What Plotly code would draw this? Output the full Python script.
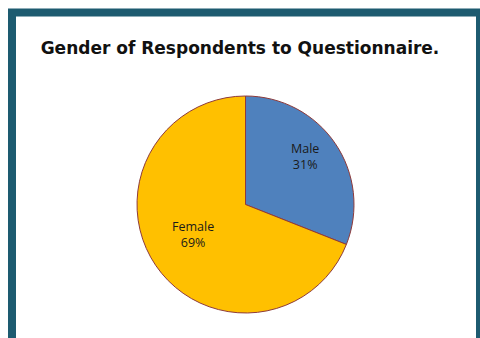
import plotly.graph_objects as go

# Survey breakdown by gender
genders = ["Male", "Female"]
shares = [31, 69]
slice_colors = ["#4F81BD", "#FFC000"]

W, H = 480, 338

# Pie placement (paper fractions) and label anchor points in pixels
pie_x = [137 / W, 354 / W]
pie_y = [25 / H, 242 / H]
label_px = [(305, 156), (193, 234)]

fig = go.Figure(
    go.Pie(
        labels=genders,
        values=shares,
        sort=False,
        direction="clockwise",
        rotation=0,
        marker=dict(colors=slice_colors, line=dict(color="#8E3B3B", width=1)),
        textinfo="none",
        hoverinfo="label+percent",
        showlegend=False,
        domain=dict(x=pie_x, y=pie_y),
    )
)

total = sum(shares)
for name, val, (px, py) in zip(genders, shares, label_px):
    fig.add_annotation(
        x=px / W,
        y=1 - py / H,
        xref="paper",
        yref="paper",
        text=f"{name}<br>{round(100 * val / total)}%",
        showarrow=False,
        xanchor="center",
        yanchor="middle",
        align="center",
        font=dict(family="Open Sans, Liberation Sans, sans-serif", size=12.5, color="#1a1a1a"),
    )

fig.update_layout(
    width=W,
    height=H,
    margin=dict(l=0, r=0, t=0, b=0),
    paper_bgcolor="white",
    title=dict(
        text="<b>Gender of Respondents to Questionnaire.</b>",
        x=240 / W,
        xanchor="center",
        y=1 - 48 / H,
        yanchor="middle",
        font=dict(family="DejaVu Sans, sans-serif", size=17, color="#111111"),
    ),
    shapes=[
        dict(
            type="rect",
            xref="paper",
            yref="paper",
            x0=12 / W,
            x1=1.0,
            y0=-30 / H,
            y1=1 - 12.5 / H,
            line=dict(color="#1D5B70", width=8),
            layer="above",
        )
    ],
)

fig.write_html("out.html")
